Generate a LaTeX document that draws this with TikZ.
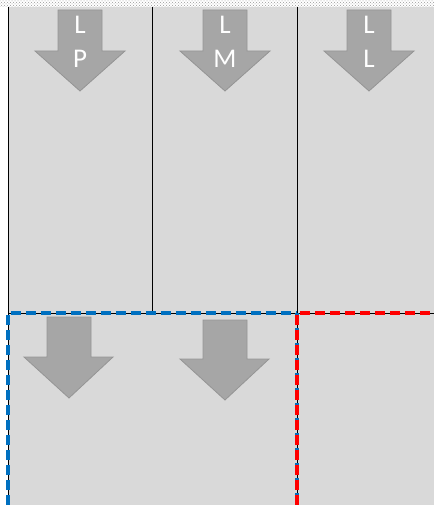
\documentclass[tikz,border=0pt]{standalone}
\usepackage{fontspec}
\setmainfont{Carlito}
\usetikzlibrary{positioning,patterns}
\definecolor{panelgray}{HTML}{D9D9D9}
\definecolor{arwgray}{HTML}{A6A6A6}
\definecolor{arwline}{HTML}{959595}
\definecolor{lineblue}{HTML}{0070C0}
\definecolor{linered}{HTML}{FF0000}

\begin{document}
\begin{tikzpicture}[
    x=1pt,y=-1pt,
    panel/.style={fill=panelgray,draw=black,line width=0.8pt},
    arw/.style={fill=arwgray,draw=arwline,line width=0.8pt},
    lbl/.style={text=white,font=\fontsize{27}{27}\selectfont,inner sep=0pt},
    bluedash/.style={draw=lineblue,line width=3.4pt,dash pattern=on 10pt off 5pt},
    reddash/.style={draw=linered,line width=3.4pt,dash pattern=on 10pt off 5pt},
    ]
    \useasboundingbox (0,0) rectangle (434,505);
    % transparent strip on top
    \fill[white] (0,0) rectangle (434,7);
    \fill[pattern=crosshatch dots,pattern color=gray!80] (0,0) rectangle (434,7);
    % upper row
    \fill[panelgray] (8,7) rectangle (434,313);
    \draw[black,line width=1pt] (8,7) -- (8,313);
    \draw[black,line width=1pt] (152,7) -- (152,313);
    \draw[black,line width=1pt] (297,7) -- (297,313);
    % lower row
    \fill[panelgray] (8,313) rectangle (434,505);
    \draw[black,line width=1pt] (8,505) -- (8,313) -- (434,313);
    \draw[black,line width=1pt] (297,313) -- (297,505);
    \draw[bluedash] (8,505) -- (8,313) -- (297,313);
    \draw[bluedash] (297,313) -- (297,505);
    \draw[reddash] (297,505) -- (297,313) -- (434,313);
    % arrows, top row
    \foreach \cx in {80,225,369}
        \draw[arw] (\cx-22,10) -- (\cx+22,10) -- (\cx+22,51) -- (\cx+45,51)
            -- (\cx,91) -- (\cx-45,51) -- (\cx-22,51) -- cycle;
    % arrows, bottom row
    \draw[arw] (47,317) -- (91,317) -- (91,357) -- (113,357)
        -- (69,398) -- (24,357) -- (47,357) -- cycle;
    \draw[arw] (203,320) -- (247,320) -- (247,359) -- (269,359)
        -- (225,400) -- (180,359) -- (203,359) -- cycle;
    % labels
    \node[lbl] (lp1) at (80,24.5) {L};
    \node[lbl] (lp2) at (80,58.5) {P};
    \node[lbl] (lm1) at (225,24.5) {L};
    \node[lbl] (lm2) at (225,58.5) {M};
    \node[lbl] (ll1) at (369,24.5) {L};
    \node[lbl] (ll2) at (369,58.5) {L};
\end{tikzpicture}
\end{document}
